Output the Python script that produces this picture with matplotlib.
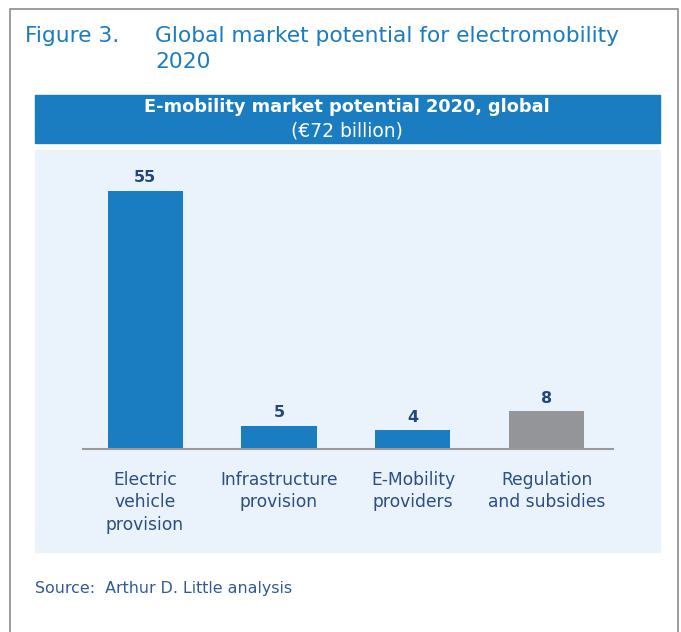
import matplotlib
matplotlib.use("Agg")
import matplotlib.pyplot as plt
from matplotlib.patches import Rectangle

# data
categories = ["Electric\nvehicle\nprovision", "Infrastructure\nprovision",
              "E-Mobility\nproviders", "Regulation\nand subsidies"]
values = [55, 5, 4, 8]
bar_colors = ["#1a7cc1", "#1a7cc1", "#1a7cc1", "#939598"]

W, H = 681, 632
BLUE = "#1a7cc1"
NAVY = "#23477c"

def fx(x):  # pixel -> figure fraction
    return x / W

def fy(y):
    return 1 - y / H

fig = plt.figure(figsize=(W / 100, H / 100), dpi=100)
fig.patch.set_facecolor("white")

# outer frame
fig.patches.append(Rectangle((fx(10), fy(640)), fx(668), fy(9) - fy(640),
                             transform=fig.transFigure, fill=False,
                             edgecolor="#8c8c8c", linewidth=1.2, zorder=-1))
# header band
fig.patches.append(Rectangle((fx(35), fy(143)), fx(625), fy(95) - fy(143),
                             transform=fig.transFigure, color=BLUE, zorder=-1))
# light panel
fig.patches.append(Rectangle((fx(35), fy(552)), fx(625), fy(150) - fy(552),
                             transform=fig.transFigure, color="#eaf3fb", zorder=-1))

fig.text(fx(25), fy(36), "Figure 3.", color=BLUE, fontsize=15.7, va="center")
fig.text(fx(155), fy(36), "Global market potential for electromobility", color=BLUE,
         fontsize=15.7, va="center")
fig.text(fx(155), fy(62), "2020", color=BLUE, fontsize=15.7, va="center")

fig.text(fx(347), fy(107), "E-mobility market potential 2020, global", color="white",
         fontsize=12.8, fontweight="bold", ha="center", va="center")
fig.text(fx(347), fy(131), "(€72 billion)", color="white", fontsize=13.5,
         ha="center", va="center")

fig.text(fx(35), fy(589), "Source:  Arthur D. Little analysis", color="#2f5a96",
         fontsize=11.4, va="center")

# bar axes: baseline at y=449px, x from 83 to 613px
ax = fig.add_axes([fx(83), fy(449), fx(613) - fx(83), fy(167) - fy(449)])
ax.set_facecolor("none")
x = range(len(values))
ax.bar(x, values, width=0.56, color=bar_colors)
ax.set_xlim(-0.463, 3.493)
ax.set_ylim(0, 60)
for xi, v in zip(x, values):
    ax.text(xi, v + 1.1, str(v), ha="center", va="bottom", fontsize=11.5,
            fontweight="bold", color=NAVY)

for s in ["top", "right", "left"]:
    ax.spines[s].set_visible(False)
ax.spines["bottom"].set_color("#9a9a9a")
ax.spines["bottom"].set_linewidth(1.5)
ax.set_yticks([])
ax.set_xticks(list(x))
ax.set_xticklabels(categories, fontsize=12.3, color="#2a4f85", linespacing=1.3)
ax.tick_params(axis="x", length=0, pad=16)

fig.savefig("out.png", dpi=100)
